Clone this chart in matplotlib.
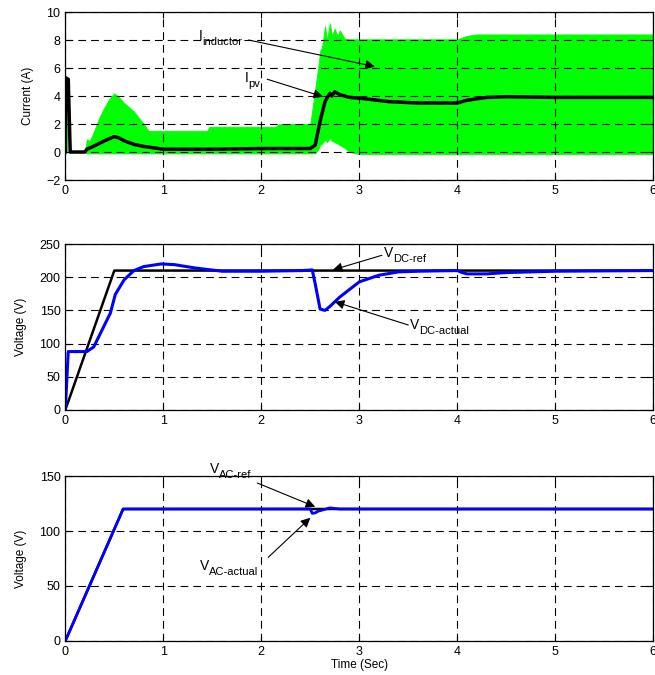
import numpy as np
import matplotlib.pyplot as plt

plt.rcParams['font.family'] = ['Liberation Sans', 'DejaVu Sans']

# ---- panel 1: currents ----
t_ind = [0.0, 0.01, 0.02, 0.05, 0.2, 0.22, 0.25, 0.3, 0.35, 0.4, 0.45, 0.5, 0.55,
         0.6, 0.7, 0.8, 0.85, 1.0, 1.45, 1.47, 2.15, 2.18, 2.5, 2.55, 2.58, 2.6,
         2.62, 2.65, 2.67, 2.7, 2.72, 2.75, 2.78, 2.8, 2.85, 2.9, 3.0, 3.5, 4.0,
         4.1, 4.2, 5.0, 6.0]
ind_hi = [4.0, 4.0, 0.0, 0.0, 0.0, 0.9, 0.8, 1.6, 2.5, 3.2, 3.8, 4.2, 3.9,
          3.5, 2.9, 2.0, 1.5, 1.5, 1.5, 1.8, 1.8, 2.0, 2.0, 4.5, 6.0, 7.2,
          7.5, 9.0, 8.0, 9.2, 8.3, 8.8, 8.2, 8.7, 8.1, 8.05, 8.05, 8.05, 8.05,
          8.3, 8.4, 8.4, 8.4]
ind_lo = [0.0, 0.0, 0.0, 0.0, 0.0, -0.1, -0.1, -0.1, -0.1, -0.1, -0.1, -0.1, -0.1,
          -0.1, -0.1, -0.1, -0.1, -0.1, -0.1, -0.1, -0.1, -0.1, -0.1, -0.1, 0.2, 0.5,
          0.6, 0.9, 0.7, 1.0, 0.8, 0.7, 0.6, 0.5, 0.3, 0.0, -0.15, -0.15, -0.15,
          -0.15, -0.15, -0.15, -0.15]

t_pv = [0.0, 0.005, 0.03, 0.05, 0.2, 0.22, 0.3, 0.4, 0.45, 0.5, 0.55, 0.6, 0.7,
        0.8, 1.0, 1.5, 2.0, 2.5, 2.55, 2.6, 2.65, 2.7, 2.72, 2.75, 2.8, 2.9, 3.0,
        3.3, 3.6, 4.0, 4.1, 4.3, 4.5, 5.0, 6.0]
i_pv = [0.0, 5.3, 5.2, 0.0, 0.0, 0.2, 0.45, 0.8, 0.95, 1.1, 1.0, 0.8, 0.55,
        0.4, 0.2, 0.2, 0.25, 0.25, 0.5, 2.2, 3.6, 4.2, 4.0, 4.3, 4.1, 3.9, 3.85,
        3.6, 3.5, 3.5, 3.7, 3.9, 3.95, 3.9, 3.9]

# ---- panel 2: DC link voltage ----
t_dcref = [0.0, 0.5, 6.0]
v_dcref = [0.0, 210.0, 210.0]

t_dc = [0.0, 0.03, 0.2, 0.22, 0.29, 0.36, 0.46, 0.51, 0.6, 0.7, 0.8, 0.98, 1.11,
        1.32, 1.6, 2.0, 2.42, 2.52, 2.55, 2.6, 2.65, 2.7, 2.8, 3.0, 3.2, 3.4,
        3.6, 4.0, 4.05, 4.1, 4.3, 4.5, 5.0, 6.0]
v_dc = [0.0, 88.0, 88.0, 88.0, 95.0, 116.0, 146.0, 174.0, 196.0, 210.0, 216.0, 220.0,
        219.0, 214.0, 209.0, 209.0, 210.0, 211.0, 190.0, 152.0, 150.0, 156.0, 170.0,
        193.0, 203.0, 208.0, 209.0, 210.0, 207.0, 205.0, 205.0, 207.0, 209.0, 210.0]

# ---- panel 3: AC voltage ----
t_acref = [0.0, 0.59, 6.0]
v_acref = [0.0, 120.0, 120.0]

t_ac = [0.0, 0.59, 2.5, 2.52, 2.55, 2.58, 2.62, 2.7, 2.8, 6.0]
v_ac = [0.0, 120.0, 120.0, 116.0, 116.5, 118.0, 119.0, 121.0, 120.0, 120.0]

xticks = [0, 1, 2, 3, 4, 5, 6]

fig = plt.figure(figsize=(6.55, 6.75), dpi=100)
ax1 = fig.add_axes([0.0997, 0.7333, 0.8977, 0.2489])
ax2 = fig.add_axes([0.0997, 0.3926, 0.8977, 0.2459])
ax3 = fig.add_axes([0.0997, 0.0504, 0.8977, 0.2444])

for ax in (ax1, ax2, ax3):
    ax.set_xlim(0, 6)
    ax.set_xticks(xticks)
    ax.grid(True, color='black', linestyle=(0, (7, 4.5)), linewidth=0.8)
    ax.tick_params(direction='in', top=True, right=True, labelsize=9, length=4)
    for s in ax.spines.values():
        s.set_linewidth(0.9)

arrow = dict(arrowstyle='-|>', color='black', lw=0.8, mutation_scale=14,
             shrinkA=0, shrinkB=0)


def label(ax, x, y, main, sub, dx):
    # main letter with a larger-than-mathtext subscript
    ax.text(x, y, main, fontsize=10, va='baseline', ha='left', clip_on=False)
    ax.annotate(sub, xy=(x, y), xytext=(dx, -3.5), textcoords='offset points',
                fontsize=8, va='baseline', ha='left', annotation_clip=False)


def pointer(ax, tail, tip):
    ax.annotate('', xy=tip, xytext=tail, arrowprops=arrow, annotation_clip=False)


# panel 1
ax1.fill_between(t_ind, ind_lo, ind_hi, color='#00ff00', linewidth=0.6,
                 edgecolor='#00ff00')
ax1.plot(t_pv, i_pv, color='black', linewidth=2.5)
ax1.set_ylim(-2, 10)
ax1.set_yticks([-2, 0, 2, 4, 6, 8, 10])
ax1.set_ylabel('Current (A)', fontsize=8.5, labelpad=9)
label(ax1, 1.36, 8.0, 'I', 'inductor', 2.8)
pointer(ax1, (1.87, 8.0), (3.16, 6.1))
label(ax1, 1.83, 5.0, 'I', 'pv', 2.8)
pointer(ax1, (2.06, 5.2), (2.63, 3.95))

# panel 2
ax2.plot(t_dcref, v_dcref, color='black', linewidth=1.8)
ax2.plot(t_dc, v_dc, color='#0000ff', linewidth=2.2)
ax2.set_ylim(0, 250)
ax2.set_yticks([0, 50, 100, 150, 200, 250])
ax2.set_ylabel('Voltage (V)', fontsize=8.5, labelpad=9)
label(ax2, 3.25, 230, 'V', 'DC-ref', 6.5)
pointer(ax2, (3.23, 233), (2.73, 211))
label(ax2, 3.52, 122, 'V', 'DC-actual', 6.5)
pointer(ax2, (3.50, 128), (2.75, 163))

# panel 3
ax3.plot(t_acref, v_acref, color='black', linewidth=1.8)
ax3.plot(t_ac, v_ac, color='#0000ff', linewidth=2.0)
ax3.set_ylim(0, 150)
ax3.set_yticks([0, 50, 100, 150])
ax3.set_ylabel('Voltage (V)', fontsize=8.5, labelpad=9)
ax3.set_xlabel('Time (Sec)', fontsize=8.5, labelpad=1)
label(ax3, 1.476, 152.7, 'V', 'AC-ref', 6.5)
pointer(ax3, (1.96, 143.6), (2.55, 122))
label(ax3, 1.374, 64.5, 'V', 'AC-actual', 6.5)
pointer(ax3, (2.07, 76), (2.5, 112))

fig.savefig('out.png', dpi=100)
